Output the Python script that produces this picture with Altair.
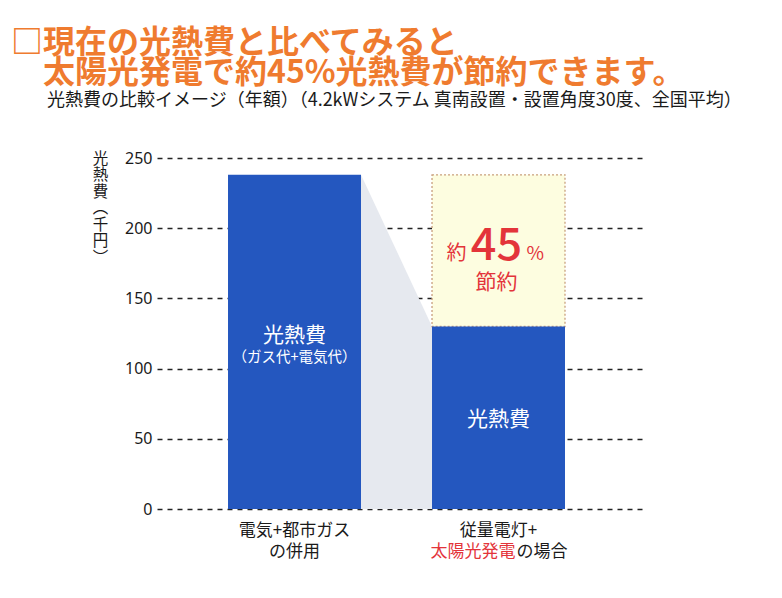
import altair as alt
import pandas as pd

# ---------------- data ----------------
scenarios = ["電気+都市ガスの併用", "従量電灯+太陽光発電の場合"]
costs = [238, 130]            # 光熱費（千円／年）
saving_pct = 45               # 約45%節約
y_ticks = [0, 50, 100, 150, 200, 250]
label_top = ["電気+都市ガス", "従量電灯+"]
label_bottom_red = ["", "太陽光発電"]
label_bottom_black = ["の併用", "の場合"]
bar_texts = ["光熱費", "光熱費"]
bar_subtexts = ["（ガス代+電気代）", ""]

title_lines = ["□現在の光熱費と比べてみると", "\u200b　太陽光発電で約45%光熱費が節約できます。"]
subtitle = "\u200b　　光熱費の比較イメージ（年額）（4.2kWシステム 真南設置・設置角度30度、全国平均）"
y_title = "光熱費（千円）"

# ---------------- style / layout ----------------
FONT = "Noto Sans CJK JP"
BLUE = "#2457BF"
GRAY = "#E6E9EF"
YELLOW = "#FDFDE0"
RED = "#E3343A"
ORANGE = "#EF7B2F"
INK = "#1a1a1a"

W, H = 485, 351
centers = [1.034, 2.568]
half = 0.5
xscale = alt.Scale(domain=[0, 3.647], nice=False, zero=False)
yscale = alt.Scale(domain=[0, 250], nice=False)

vert = {"（": "︵", "）": "︶"}
y_title_chars = [vert.get(c, c) for c in y_title]

bars = pd.DataFrame({
    "scenario": scenarios,
    "x": [c - half for c in centers],
    "x2": [c + half for c in centers],
    "cost": costs,
})

trap = pd.DataFrame({
    "x": [centers[0] + half, centers[1] - half],
    "top": [costs[0], costs[1]],
})

saving = pd.DataFrame({
    "x": [centers[1] - half], "x2": [centers[1] + half],
    "y": [costs[1]], "y2": [costs[0]],
})


def X(f="x"):
    return alt.X(f"{f}:Q", scale=xscale, axis=None)


def Y(f):
    return alt.Y(f"{f}:Q", scale=yscale)


# grid + y axis (drawn behind everything)
grid = alt.Chart(pd.DataFrame({"cost": costs})).mark_point(opacity=0).encode(
    y=alt.Y("cost:Q", scale=yscale,
            axis=alt.Axis(values=y_ticks, title=y_title_chars, titleAngle=0,
                          titleAlign="center", titleBaseline="top",
                          titleX=-57, titleY=-7, titleFontSize=15.5,
                          titleLineHeight=16.5, titleFont=FONT,
                          titleFontWeight="normal", titleColor=INK,
                          labelFont="Noto Sans", labelFontSize=16,
                          labelColor=INK, labelPadding=5, domain=False,
                          ticks=False, grid=True, gridDash=[5, 5],
                          gridColor="#222222", gridWidth=1.5)),
)

trap_layer = alt.Chart(trap).mark_area(color=GRAY, opacity=1).encode(
    x=X(), y=Y("top"), y2=alt.datum(0),
)

box_layer = alt.Chart(saving).mark_rect(
    fill=YELLOW, stroke="#C9A07E", strokeDash=[2, 2], strokeWidth=1.3
).encode(
    x=X(), x2="x2:Q", y=Y("y"), y2="y2:Q",
)

bar_layer = alt.Chart(bars).mark_rect(color=BLUE).encode(
    x=X(), x2="x2:Q", y=Y("cost"), y2=alt.datum(0),
)


def text_layer(df, **kw):
    return alt.Chart(df).mark_text(font=FONT, **kw).encode(
        x=X(), y=Y("y"), text="t:N",
    )


# text inside bars
t_bar_main = text_layer(pd.DataFrame({
    "x": centers, "y": [costs[0] * 0.5, costs[1] * 0.455], "t": bar_texts}),
    fontSize=21, color="white", baseline="alphabetic")
t_bar_sub = text_layer(pd.DataFrame({
    "x": [centers[0]], "y": [costs[0] * 0.441], "t": [bar_subtexts[0]]}),
    fontSize=14.5, color="white", baseline="alphabetic")

# savings annotation
mid_save = (costs[0] + costs[1]) / 2
save_y = mid_save - 7
t_pct = text_layer(pd.DataFrame({"x": [centers[1]], "y": [save_y], "t": [str(saving_pct)]}),
                   fontSize=45, fontWeight=500, color=RED, baseline="alphabetic", dx=-2)
t_yaku = text_layer(pd.DataFrame({"x": [centers[1]], "y": [save_y], "t": ["約"]}),
                    fontSize=20, color=RED, baseline="alphabetic", align="right", dx=-32)
t_percent = text_layer(pd.DataFrame({"x": [centers[1]], "y": [save_y], "t": ["%"]}),
                       fontSize=19, color=RED, baseline="alphabetic", align="left", dx=28)
t_setsu = text_layer(pd.DataFrame({"x": [centers[1]], "y": [mid_save - 27], "t": ["節約"]}),
                     fontSize=21, color=RED, baseline="alphabetic", dx=-2)

# category labels under the bars
t_lab1 = text_layer(pd.DataFrame({"x": centers, "y": [-19, -19], "t": label_top}),
                    fontSize=17, color=INK, baseline="alphabetic")
t_lab2a = text_layer(pd.DataFrame({"x": [centers[0]], "y": [-34], "t": [label_bottom_black[0]]}),
                     fontSize=17, color=INK, baseline="alphabetic")
t_lab2r = text_layer(pd.DataFrame({"x": [centers[1]], "y": [-34], "t": [label_bottom_red[1]]}),
                     fontSize=17, color=RED, baseline="alphabetic", align="right", dx=17)
t_lab2b = text_layer(pd.DataFrame({"x": [centers[1]], "y": [-34], "t": [label_bottom_black[1]]}),
                     fontSize=17, color=INK, baseline="alphabetic", align="left", dx=18)

chart = alt.layer(
    grid, trap_layer, box_layer, bar_layer,
    t_bar_main, t_bar_sub, t_pct, t_yaku, t_percent, t_setsu,
    t_lab1, t_lab2a, t_lab2r, t_lab2b,
).properties(
    width=W, height=H,
    padding={"left": 157, "top": 158, "right": 140, "bottom": 89},
    autosize=alt.AutoSizeParams(type="none"),
    background="white",
    title=alt.TitleParams(
        text=title_lines, subtitle=subtitle, anchor="start", frame="group",
        dx=-146, offset=39, font=FONT, fontSize=32, fontWeight="bold",
        color=ORANGE, lineHeight=30, subtitleFont=FONT, subtitleFontSize=18,
        subtitleColor=INK, subtitlePadding=2,
    ),
).configure_view(stroke=None)

chart.save("out.html", embed_options={"renderer": "svg", "actions": False})
